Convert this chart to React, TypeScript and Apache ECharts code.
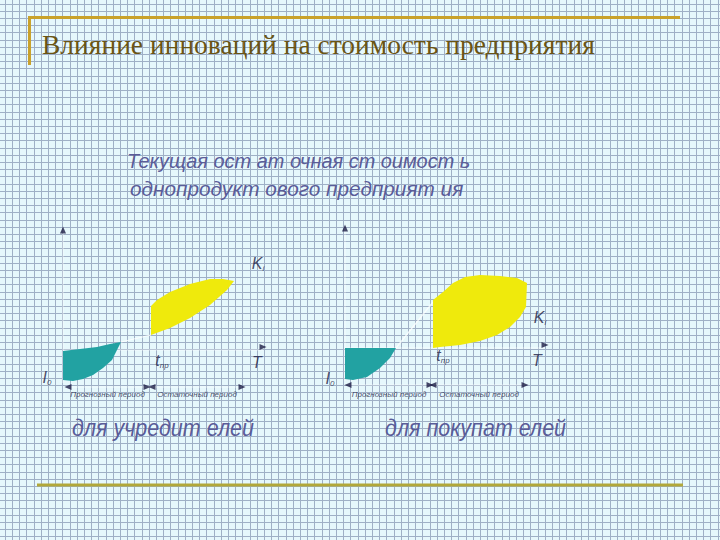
import React, { useEffect, useRef } from "react";
import * as echarts from "echarts";

// ---- texts ----
const TITLE = "Влияние инноваций на стоимость предприятия";
const SUBTITLE = ["Текущая ост ат очная ст оимост ь", "однопродукт ового предприят ия"];
const CAPTIONS = ["для учредит елей", "для покупат елей"];
const PERIODS = ["Прогнозный период", "Остаточный период"];

// ---- left chart (founders) curves, data units ----
const LEFT_TEAL_TOP = [[0, -0.1], [0.85, 0.1], [1.7, 0.3], [2.35, 0.6], [2.9, 0.8]];
const LEFT_TEAL_LOW = [[0, -3.0], [0.5, -3.1], [1.0, -2.9], [1.5, -2.5], [2.0, -1.8], [2.45, -1.0], [2.9, 0.8]];
const LEFT_YEL_LOW = [[4.4, 1.5], [5.35, 2.2], [6.35, 3.2], [7.35, 4.5], [8.2, 6.0], [8.55, 6.9]];
const LEFT_YEL_TOP = [[4.4, 4.4], [4.7, 5.0], [5.35, 5.8], [6.35, 6.6], [7.35, 7.1], [8.0, 7.1], [8.55, 6.9]];
const LEFT_LINK = [[2.9, 0.8], [4.4, 1.5]];
const LEFT_PERIOD_ENDS = [[0.25, 4.2], [4.45, 8.95]];

// ---- right chart (buyers) curves ----
const RIGHT_TEAL_TOP = [[0, 0], [2.55, 0]];
const RIGHT_TEAL_LOW = [[0, -3.1], [0.4, -3.2], [1.1, -2.9], [1.75, -2.0], [2.25, -1.0], [2.55, 0]];
const RIGHT_YEL_LOW = [[4.4, 0], [4.75, 0.1], [5.75, 0.3], [6.75, 0.7], [7.6, 1.3], [8.25, 2.1], [8.75, 3.1], [9.05, 4.1]];
const RIGHT_YEL_TOP = [[4.4, 4.8], [4.9, 5.6], [5.4, 6.5], [6.0, 7.1], [6.75, 7.3], [7.75, 7.2], [8.6, 7.0], [9.1, 6.5]];
const RIGHT_LINK = [[2.55, 0], [4.4, 4.6]];
const RIGHT_PERIOD_ENDS = [[0.15, 4.25], [4.4, 9.0]];

// label anchor points [x, y] per chart: K_i, T, t_пр, I_0
const LEFT_MARKS = { K: [9.75, 8.7], T: [9.7, -1.2], t: [4.95, -1.0], I: [-0.8, -2.7], periodY: -3.7, periodTextY: -4.4 };
const RIGHT_MARKS = { K: [9.75, 3.1], T: [9.6, -1.2], t: [4.9, -0.7], I: [-0.75, -3.0], periodY: -3.7, periodTextY: -4.6 };

const X_MIN = -2, X_MAX = 10.5, Y_MIN = -5, Y_MAX = 12;
const AXIS_TOP = 12, AXIS_BOTTOM = -3.3, AXIS_RIGHT = 10;

const TEAL = "#22a2a2";
const YELLOW = "#efea0c";
const INK = "#1c1c44";
const BLUE_TEXT = "#5a5c98";

function polygonSeries(idx: number, pts: number[][], fill: string) {
  return {
    type: "custom",
    xAxisIndex: idx,
    yAxisIndex: idx,
    clip: false,
    silent: true,
    data: [[0, 0]],
    renderItem: (_p: any, api: any) => ({
      type: "polygon",
      shape: { points: pts.map((p) => api.coord(p)) },
      style: { fill, stroke: null },
    }),
    z: 3,
  };
}

function lineSeries(idx: number, pts: number[][], color: string, width: number) {
  return {
    type: "line",
    xAxisIndex: idx,
    yAxisIndex: idx,
    data: pts,
    symbol: "none",
    silent: true,
    clip: false,
    lineStyle: { color, width },
    z: 2,
  };
}

function textSeries(idx: number, at: number[], formatter: string, rich: any, fontSize: number) {
  return {
    type: "scatter",
    xAxisIndex: idx,
    yAxisIndex: idx,
    clip: false,
    silent: true,
    symbolSize: 1,
    itemStyle: { color: "rgba(0,0,0,0)" },
    data: [at],
    label: {
      show: true,
      position: "inside",
      formatter,
      color: INK,
      fontFamily: "Liberation Sans",
      fontStyle: "italic",
      fontSize,
      rich,
    },
    z: 5,
  };
}

const SUB_RICH = {
  m: { fontSize: 16, fontStyle: "italic", fontFamily: "Liberation Sans", color: INK },
  s: { fontSize: 8, fontStyle: "italic", fontFamily: "Liberation Sans", color: INK, verticalAlign: "bottom", padding: [10, 0, 0, 0] },
};

function chartSeries(idx: number, d: any) {
  const tealPoly = d.tealTop.concat(d.tealLow.slice().reverse());
  const yelPoly = d.yelLow.concat(d.yelTop.slice().reverse());
  const m = d.marks;
  const ends = d.periods;
  const arrows = [
    { value: [0, AXIS_TOP], symbolRotate: 0 },
    { value: [AXIS_RIGHT, 0.3], symbolRotate: -90 },
    { value: [ends[0][0], m.periodY], symbolRotate: 90 },
    { value: [ends[0][1], m.periodY], symbolRotate: -90 },
    { value: [ends[1][0], m.periodY], symbolRotate: 90 },
    { value: [ends[1][1], m.periodY], symbolRotate: -90 },
  ];
  return [
    lineSeries(idx, [[0, AXIS_BOTTOM], [0, AXIS_TOP]], "rgba(255,255,255,0.55)", 1),
    lineSeries(idx, [[0, 0], [AXIS_RIGHT, 0]], "rgba(255,255,255,0.55)", 1),
    lineSeries(idx, [[ends[0][0], m.periodY], [ends[1][1], m.periodY]], "rgba(255,255,255,0.5)", 1),
    polygonSeries(idx, tealPoly, TEAL),
    polygonSeries(idx, yelPoly, YELLOW),
    lineSeries(idx, d.link, "rgba(255,255,255,0.8)", 1.2),
    {
      type: "scatter",
      xAxisIndex: idx,
      yAxisIndex: idx,
      clip: false,
      silent: true,
      symbol: "triangle",
      symbolSize: [6, 7],
      itemStyle: { color: INK },
      data: arrows,
      z: 4,
    },
    textSeries(idx, m.K, "{m|K}{s|i}", SUB_RICH, 16),
    textSeries(idx, m.T, "{m|T}", SUB_RICH, 16),
    textSeries(idx, m.t, "{m|t}{s|пр}", SUB_RICH, 16),
    textSeries(idx, m.I, "{m|I}{s|0}", SUB_RICH, 16),
    textSeries(idx, [(ends[0][0] + ends[0][1]) / 2, m.periodTextY], PERIODS[0], null, 8),
    textSeries(idx, [(ends[1][0] + ends[1][1]) / 2, m.periodTextY], PERIODS[1], null, 8),
  ];
}

function paperGrid() {
  const els: any[] = [];
  const step = 7.2;
  for (let k = 0; k <= 100; k++) {
    const x = Math.round(4.8 + k * step) + 0.5;
    els.push({ type: "line", silent: true, z: 0, shape: { x1: x, y1: 0, x2: x, y2: 540 }, style: { stroke: "#9fb0c6", lineWidth: 1 } });
  }
  for (let k = 0; k <= 75; k++) {
    const y = Math.round(3.5 + k * step) + 0.5;
    els.push({ type: "line", silent: true, z: 0, shape: { x1: 0, y1: y, x2: 720, y2: y }, style: { stroke: "#9fb0c6", lineWidth: 1 } });
  }
  return els;
}

export default function App() {
  const ref = useRef<HTMLDivElement>(null);
  useEffect(() => {
    if (!ref.current) return;
    const chart = echarts.init(ref.current, undefined, { renderer: "svg" });
    const axisCommon = { type: "value", show: false, min: X_MIN, max: X_MAX };
    const yCommon = { type: "value", show: false, min: Y_MIN, max: Y_MAX };
    const option: any = {
      animation: false,
      backgroundColor: "#e6f8fc",
      grid: [
        { left: 23, top: 230, width: 250, height: 170 },
        { left: 305, top: 228, width: 250, height: 170 },
      ],
      xAxis: [{ ...axisCommon, gridIndex: 0 }, { ...axisCommon, gridIndex: 1 }],
      yAxis: [{ ...yCommon, gridIndex: 0 }, { ...yCommon, gridIndex: 1 }],
      graphic: {
        elements: [
          ...paperGrid(),
          { type: "line", z: 5, shape: { x1: 29, y1: 17.5, x2: 680, y2: 17.5 }, style: { stroke: "#c9a22c", lineWidth: 3 } },
          { type: "line", z: 5, shape: { x1: 29.5, y1: 16, x2: 29.5, y2: 65 }, style: { stroke: "#c9a22c", lineWidth: 3 } },
          { type: "line", z: 5, shape: { x1: 37, y1: 485, x2: 683, y2: 485 }, style: { stroke: "#b2a83a", lineWidth: 3 } },
          {
            type: "text", z: 6, x: 42, y: 44,
            style: {
              text: TITLE, font: '27.5px "Liberation Serif"', fill: "#6a5414",
              verticalAlign: "middle", textShadowColor: "#d8b840", textShadowBlur: 0, textShadowOffsetX: 1, textShadowOffsetY: 1,
            },
          },
          {
            type: "text", z: 6, x: 127, y: 160, scaleX: 0.95,
            style: { text: SUBTITLE[0], font: 'italic 21px "Liberation Sans"', fill: BLUE_TEXT, verticalAlign: "middle" },
          },
          {
            type: "text", z: 6, x: 130, y: 188, scaleX: 0.99,
            style: { text: SUBTITLE[1], font: 'italic 21px "Liberation Sans"', fill: BLUE_TEXT, verticalAlign: "middle" },
          },
          {
            type: "text", z: 6, x: 72, y: 428, scaleX: 0.935,
            style: { text: CAPTIONS[0], font: 'italic 23px "Liberation Sans"', fill: BLUE_TEXT, verticalAlign: "middle" },
          },
          {
            type: "text", z: 6, x: 385, y: 428, scaleX: 0.935,
            style: { text: CAPTIONS[1], font: 'italic 23px "Liberation Sans"', fill: BLUE_TEXT, verticalAlign: "middle" },
          },
        ],
      },
      series: [
        ...chartSeries(0, {
          tealTop: LEFT_TEAL_TOP, tealLow: LEFT_TEAL_LOW, yelLow: LEFT_YEL_LOW, yelTop: LEFT_YEL_TOP,
          link: LEFT_LINK, periods: LEFT_PERIOD_ENDS, marks: LEFT_MARKS,
        }),
        ...chartSeries(1, {
          tealTop: RIGHT_TEAL_TOP, tealLow: RIGHT_TEAL_LOW, yelLow: RIGHT_YEL_LOW, yelTop: RIGHT_YEL_TOP,
          link: RIGHT_LINK, periods: RIGHT_PERIOD_ENDS, marks: RIGHT_MARKS,
        }),
      ],
    };
    chart.setOption(option);
    return () => chart.dispose();
  }, []);
  return <div ref={ref} style={{ position: "fixed", left: 0, top: 0, width: 720, height: 540 }} />;
}
